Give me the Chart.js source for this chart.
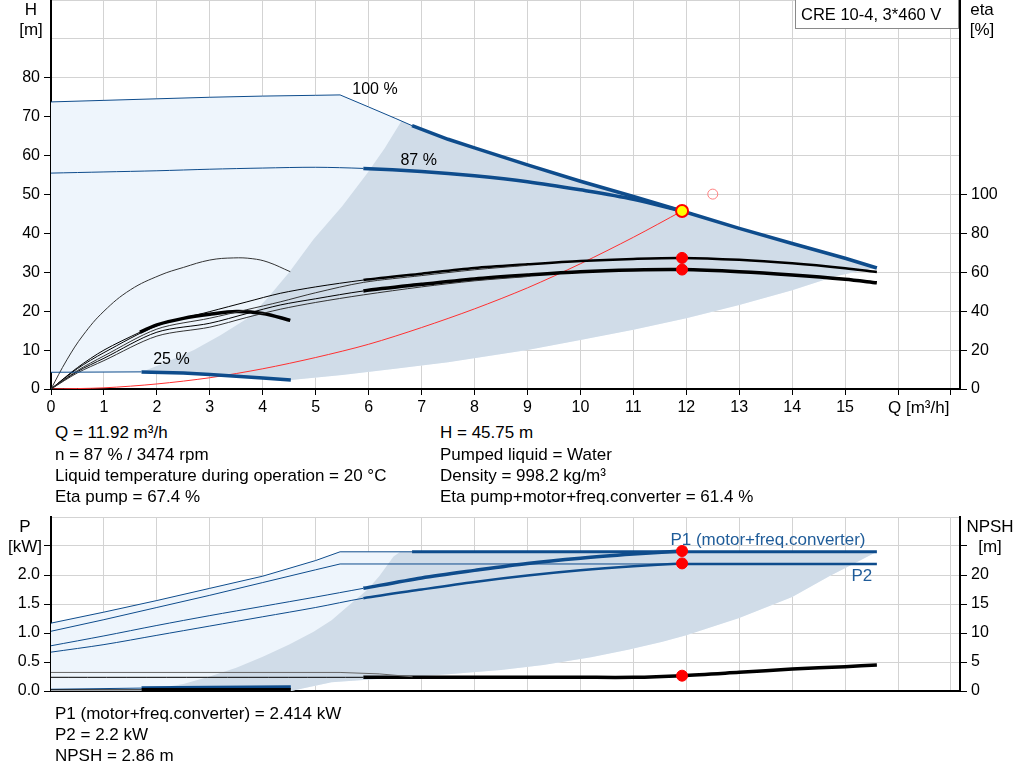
<!DOCTYPE html>
<html>
<head>
<meta charset="utf-8">
<script src="https://cdn.jsdelivr.net/npm/chart.js@4.4.0/dist/chart.umd.min.js"></script>
<style>
  body { margin: 0; background: #fff; width: 1024px; height: 781px; overflow: hidden; position: relative;
         font-family: "Liberation Sans", Arial, sans-serif; }
  #headBox { position: absolute; left: 0; top: 0; width: 1024px; height: 420px; }
  #powerBox { position: absolute; left: 0; top: 505px; width: 1024px; height: 200px; }
  .t { position: absolute; font-size: 17px; line-height: 20px; color: #000; white-space: nowrap; }
</style>
</head>
<body>
<div id="headBox"><canvas id="headChart"></canvas></div>
<div id="powerBox"><canvas id="powerChart"></canvas></div>

<div class="t" style="left:55px;top:423px">Q = 11.92 m³/h</div>
<div class="t" style="left:55px;top:445px">n = 87 % / 3474 rpm</div>
<div class="t" style="left:55px;top:466px">Liquid temperature during operation = 20 °C</div>
<div class="t" style="left:55px;top:487px">Eta pump = 67.4 %</div>
<div class="t" style="left:440px;top:423px">H = 45.75 m</div>
<div class="t" style="left:440px;top:445px">Pumped liquid = Water</div>
<div class="t" style="left:440px;top:466px">Density = 998.2 kg/m³</div>
<div class="t" style="left:440px;top:487px">Eta pump+motor+freq.converter = 61.4 %</div>

<div class="t" style="left:55px;top:704px">P1 (motor+freq.converter) = 2.414 kW</div>
<div class="t" style="left:55px;top:725px">P2 = 2.2 kW</div>
<div class="t" style="left:55px;top:746px">NPSH = 2.86 m</div>

<script>
// ---- flow axis ----
const qGrid = [0, 1, 2, 3, 4, 5, 6, 7, 8, 9, 10, 11, 12, 13, 14, 15, 16, 17];
const qAxisMax = 17.17;

// ---- head curves (H, m) ----
const qMax = [0, 1, 2, 3, 4, 5, 5.46, 6.0, 6.5, 6.82, 7.5, 8, 9, 10, 11, 11.92, 13, 14, 15, 15.6];
const hMax = [73.8, 74.2, 74.6, 75.0, 75.3, 75.5, 75.6, 72.5, 69.6, 67.7, 64.2, 62.0, 57.6, 53.4, 49.5, 45.75, 41.3, 37.4, 33.6, 31.1];
const q87 = [0, 1, 2, 3, 4, 5, 5.9, 7, 8, 9, 10, 11, 11.92];
const h87 = [55.5, 55.8, 56.1, 56.5, 56.8, 57.0, 56.7, 55.9, 54.8, 53.3, 51.2, 48.8, 45.75];
const q25 = [0, 1.71, 2.5, 3, 3.5, 4, 4.53];
const h25 = [4.3, 4.4, 4.1, 3.7, 3.3, 2.8, 2.3];
const qLow = [4.53, 5.5, 6.5, 7.5, 9, 10, 11, 12, 13, 14, 14.8, 15.3, 15.6];
const hLow = [2.3, 3.6, 5.2, 6.9, 10.0, 12.6, 15.2, 18.2, 21.6, 25.4, 28.9, 30.4, 31.1];
const qLeft = [1.71, 2.2, 2.7, 3.2, 3.76, 4.1, 4.5, 4.96, 5.5, 5.97, 6.3, 6.62];
const hLeft = [4.4, 7.0, 10.0, 13.8, 18.6, 23.5, 30.0, 38.5, 47.0, 55.4, 61.8, 68.9];
const qSys = [0, 1, 2, 3, 4, 5, 6, 7, 8, 9, 10, 11, 11.92];
const hSys = [0, 0.3, 1.3, 2.9, 5.2, 8.1, 11.5, 15.8, 20.6, 26.0, 32.2, 39.0, 45.75];

// ---- efficiency curves (eta, %) ----
const qEtaP87 = [0, 0.5, 1, 2, 3, 3.7, 4.33, 5, 5.9, 7, 8, 9, 10, 11, 11.92, 13, 14, 15, 15.6];
const etaP87 = [0, 10.5, 18.7, 32.5, 39.8, 44.8, 49.2, 52.5, 56, 59.3, 62.2, 64.1, 65.8, 66.9, 67.4, 66.4, 64.6, 62.1, 60.2];
const qEtaP100 = [0, 0.5, 1, 2, 3, 3.7, 4.33, 5, 5.9, 7, 8, 9];
const etaP100 = [0, 9.5, 17, 30.8, 36.4, 40.8, 44.8, 49.5, 54.8, 58.3, 61.3, 63.6];
const qEtaT87 = [0, 0.5, 1, 2, 3, 3.7, 4.33, 5, 5.9, 7, 8, 9, 10, 11, 11.92, 13, 14, 15, 15.6];
const etaT87 = [0, 9, 15.8, 29.2, 33.8, 38.8, 43.2, 46.4, 50.4, 53.8, 56.6, 58.6, 60.3, 61.2, 61.4, 60.3, 58.6, 56.4, 54.6];
const qEtaT100 = [0, 0.5, 1, 2, 3, 3.7, 4.33, 5, 5.9, 7, 8, 9];
const etaT100 = [0, 8.3, 14.6, 27.2, 31.8, 36.8, 41, 44.5, 48.4, 52.5, 55.6, 57.8];
const qEtaP25 = [0, 0.3, 0.61, 1, 1.5, 2.06, 2.5, 3, 3.45, 3.8, 4.1, 4.52];
const etaP25 = [0, 15, 27.8, 40, 51, 58.5, 62.5, 66.3, 67.4, 67, 65.2, 60.3];
const qEtaT25 = [0, 0.5, 1, 1.68, 2, 2.5, 3, 3.5, 4, 4.52];
const etaT25 = [0, 11, 20, 29.2, 33, 36.3, 38.4, 39.8, 38.8, 35.3];

// ---- duty point ----
const dutyQ = 11.92, dutyH = 45.75, dutyEtaP = 67.4, dutyEtaT = 61.4;
const dutyP1 = 2.414, dutyP2 = 2.2, dutyNpsh = 2.64;
const setQ = 12.5, setH = 50.1;

// ---- power curves (P, kW) ----
const qP1Max = [0, 1, 2, 3, 4, 5, 5.46, 6.82, 9, 11.92, 14, 15.6];
const pP1Max = [1.17, 1.36, 1.56, 1.77, 1.98, 2.25, 2.4, 2.4, 2.4, 2.4, 2.4, 2.4];
const qP2Max = [0, 1, 2, 3, 4, 5, 5.46, 9, 11.92, 14, 15.6];
const pP2Max = [1.03, 1.23, 1.44, 1.65, 1.87, 2.09, 2.19, 2.19, 2.19, 2.19, 2.19];
const qP87 = [0, 1, 2, 3, 4, 5, 5.9, 7, 8, 9, 10, 11, 11.92];
const pP1_87 = [0.78, 0.95, 1.13, 1.3, 1.46, 1.62, 1.77, 1.95, 2.08, 2.2, 2.29, 2.36, 2.414];
const pP2_87 = [0.67, 0.8, 0.96, 1.12, 1.28, 1.44, 1.6, 1.75, 1.88, 1.99, 2.08, 2.15, 2.2];
const qP25 = [0, 1.71, 3, 4.53];
const pP1_25 = [0.03, 0.05, 0.06, 0.07];
const qPLeft = [1.71, 2.5, 3, 3.5, 4, 4.5, 4.96, 5.3, 5.59, 5.97, 6.2, 6.47, 6.6];
const pPLeft = [0, 0.12, 0.25, 0.4, 0.59, 0.8, 1.02, 1.22, 1.45, 1.74, 1.98, 2.32, 2.4];
const qPLow = [4.53, 5.3, 6.5, 7.5, 8.5, 9.3, 10.2, 10.9, 11.55, 12, 13, 14, 14.7, 15.3, 15.6];
const pPLow = [0, 0.15, 0.23, 0.29, 0.36, 0.45, 0.58, 0.71, 0.85, 0.96, 1.26, 1.62, 1.98, 2.26, 2.4];

// ---- NPSH curves (m) ----
const qN87 = [0, 5.9, 7, 8, 9, 10, 11, 11.92, 13, 14, 15, 15.6];
const npsh87 = [2.36, 2.36, 2.38, 2.38, 2.37, 2.36, 2.36, 2.64, 3.22, 3.79, 4.2, 4.48];
const qN100 = [0, 5.46, 6.2, 6.83];
const npsh100 = [3.2, 3.2, 2.95, 2.45];
const qN25 = [0, 1.71, 4.53];
const npsh25 = [0.2, 0.2, 0.2];

const blue = '#0e4c8c';
const gridColor = '#d3d3d3';
const lightFill = '#eef5fc';
const darkFill = '#d0dce8';

Chart.defaults.font.family = '"Liberation Sans", Arial, sans-serif';
Chart.defaults.font.size = 16;
Chart.defaults.color = '#000';

function pts(qs, vs) {
    return qs.map(function(q, i){ return {x: q, y: vs[i]}; });
}

function curve(qs, vs, axis, color, thickFrom, thin, thick, tension) {
    return {
        data: pts(qs, vs),
        yAxisID: axis,
        borderColor: color,
        borderWidth: thin,
        borderJoinStyle: 'round',
        pointRadius: 0,
        tension: tension === undefined ? 0.3 : tension,
        fill: false,
        order: 5,
        segment: {
            borderWidth: function(c){ return c.p0.parsed.x >= thickFrom - 1e-6 ? thick : thin; }
        }
    };
}

function area(points, axis, color, order) {
    return {
        data: points,
        yAxisID: axis,
        borderWidth: 0,
        borderColor: 'rgba(0,0,0,0)',
        backgroundColor: color,
        pointRadius: 0,
        tension: 0,
        fill: 'shape',
        order: order
    };
}

function dot(q, v, axis, bg, border, r, bw) {
    return {
        data: [{x: q, y: v}],
        yAxisID: axis,
        showLine: false,
        pointRadius: r,
        pointBackgroundColor: bg,
        pointBorderColor: border,
        pointBorderWidth: bw,
        order: 0
    };
}

// no automatic label padding: plot area is set by the axis sizes below
function noPad(s) {
    s.paddingTop = 0; s.paddingBottom = 0; s.paddingLeft = 0; s.paddingRight = 0;
}

function qAxis(withLabels, height) {
    return {
        type: 'linear', min: 0, max: qAxisMax,
        afterBuildTicks: function(s){ s.ticks = qGrid.map(function(v){ return {value: v}; }); },
        ticks: {
            display: withLabels, autoSkip: false, maxRotation: 0, padding: 3,
            callback: function(v){ return v <= 15 ? String(v) : ''; }
        },
        grid: { color: gridColor, drawTicks: withLabels, tickLength: 6, tickColor: '#000' },
        border: { color: '#000', width: 2 },
        afterFit: function(s){ s.height = height; noPad(s); }
    };
}

function valueAxis(pos, max, step, labelMax, tickMax, width, fmt, onArea) {
    return {
        type: 'linear', position: pos, min: 0, max: max,
        ticks: {
            stepSize: step, padding: 4,
            callback: function(v){ return v <= labelMax + 1e-9 ? fmt(v) : ''; }
        },
        grid: {
            color: gridColor, drawOnChartArea: onArea, tickLength: 7,
            tickColor: function(c){ return c.tick && c.tick.value <= tickMax + 1e-9 ? '#000' : 'rgba(0,0,0,0)'; }
        },
        border: { color: '#000', width: 2 },
        afterFit: function(s){ s.width = width; noPad(s); }
    };
}

// ---------- head / efficiency chart ----------
const maxPts = pts(qMax, hMax);
const lowPts = pts(qLow, hLow);
const p25 = pts(q25, h25);
const headLight = maxPts.concat(lowPts.slice().reverse(), p25.slice().reverse());
const headDark = pts(qLeft, hLeft).concat(
    maxPts.filter(function(p){ return p.x > 6.62; }),
    lowPts.slice().reverse(),
    p25.filter(function(p){ return p.x > 1.71 && p.x < 4.53; }).reverse()
);

const speedLabels = [
    {text: '100 %', q: 5.69, h: 76.9},
    {text: '87 %', q: 6.6, h: 58.6},
    {text: '25 %', q: 1.93, h: 7.5}
];

const headNotes = {
    id: 'headNotes',
    afterDraw: function(chart){
        const ctx = chart.ctx;
        const x = chart.scales.x, y = chart.scales.y;
        ctx.save();
        ctx.fillStyle = '#000';
        ctx.textBaseline = 'middle';
        ctx.font = '16px "Liberation Sans", Arial, sans-serif';
        ctx.textAlign = 'left';
        speedLabels.forEach(function(l){
            ctx.fillText(l.text, x.getPixelForValue(l.q), y.getPixelForValue(l.h));
        });
        ctx.font = '17px "Liberation Sans", Arial, sans-serif';
        ctx.fillText('Q [m³/h]', 888, 408);
        ctx.textAlign = 'center';
        ctx.fillText('H', 31, 10);
        ctx.fillText('[m]', 31, 30);
        ctx.fillText('eta', 982, 10);
        ctx.fillText('[%]', 982, 30);
        // pump name box
        ctx.fillStyle = '#fff';
        ctx.fillRect(795.5, -1, 163, 29.5);
        ctx.strokeStyle = '#8a8a8a';
        ctx.lineWidth = 1;
        ctx.strokeRect(795.5, -1, 163, 29.5);
        ctx.fillStyle = '#000';
        ctx.textAlign = 'left';
        ctx.font = '16.5px "Liberation Sans", Arial, sans-serif';
        ctx.fillText('CRE 10-4, 3*460 V', 801, 15);
        ctx.restore();
    }
};

new Chart(document.getElementById('headChart'), {
    type: 'line',
    data: {
        datasets: [
            area(headLight, 'y', lightFill, 11),
            area(headDark, 'y', darkFill, 10),
            Object.assign(curve(qSys, hSys, 'y', '#ff3030', 99, 1, 1), {order: 6}),
            curve(qMax, hMax, 'y', blue, 6.82, 1, 3.5, 0),
            curve(q87, h87, 'y', blue, 5.9, 1, 3.5),
            curve(q25, h25, 'y', blue, 1.71, 1, 3.5, 0),
            curve(qEtaP100, etaP100, 'eta', '#333', 99, 1, 1),
            curve(qEtaT100, etaT100, 'eta', '#333', 99, 1, 1),
            curve(qEtaP87, etaP87, 'eta', '#000', 5.9, 1, 2.5),
            curve(qEtaT87, etaT87, 'eta', '#000', 5.9, 1, 3.5),
            curve(qEtaP25, etaP25, 'eta', '#333', 99, 1, 1, 0.4),
            curve(qEtaT25, etaT25, 'eta', '#000', 1.68, 1, 3.5),
            dot(dutyQ, dutyEtaP, 'eta', '#ff0000', '#ff0000', 5.5, 1),
            dot(dutyQ, dutyEtaT, 'eta', '#ff0000', '#ff0000', 5.5, 1),
            dot(setQ, setH, 'y', 'rgba(0,0,0,0)', '#ff8080', 5, 1),
            dot(dutyQ, dutyH, 'y', '#ffff00', '#ff0000', 6, 2)
        ]
    },
    options: {
        responsive: true,
        maintainAspectRatio: false,
        animation: false,
        events: [],
        layout: { padding: 0, autoPadding: false },
        plugins: { legend: { display: false }, tooltip: { enabled: false } },
        scales: {
            x: qAxis(true, 31),
            y: valueAxis('left', 100, 10, 80, 80, 51, function(v){ return String(v); }, true),
            eta: valueAxis('right', 200, 20, 100, 100, 64, function(v){ return String(v); }, false)
        }
    },
    plugins: [headNotes]
});

// ---------- power / NPSH chart ----------
const p1MaxPts = pts(qP1Max, pP1Max);
const pLowPts = pts(qPLow, pPLow);
const powerLight = p1MaxPts.concat(pLowPts.slice().reverse(), [{x: 0, y: 0}]);
const powerDark = pts(qPLeft, pPLeft).concat(
    p1MaxPts.filter(function(p){ return p.x > 6.6; }),
    pLowPts.slice().reverse()
);

const powerLabels = [
    {text: 'P1 (motor+freq.converter)', q: 11.7, p: 2.6},
    {text: 'P2', q: 15.12, p: 1.97}
];

const powerNotes = {
    id: 'powerNotes',
    afterDraw: function(chart){
        const ctx = chart.ctx;
        const x = chart.scales.x, y = chart.scales.y;
        ctx.save();
        ctx.textBaseline = 'middle';
        ctx.font = '17px "Liberation Sans", Arial, sans-serif';
        ctx.fillStyle = '#1f5c99';
        ctx.textAlign = 'left';
        powerLabels.forEach(function(l){
            ctx.fillText(l.text, x.getPixelForValue(l.q), y.getPixelForValue(l.p));
        });
        ctx.fillStyle = '#000';
        ctx.textAlign = 'center';
        ctx.fillText('P', 25, 22);
        ctx.fillText('[kW]', 25, 42);
        ctx.fillText('NPSH', 990, 22);
        ctx.fillText('[m]', 990, 42);
        ctx.restore();
    }
};

new Chart(document.getElementById('powerChart'), {
    type: 'line',
    data: {
        datasets: [
            area(powerLight, 'y', lightFill, 11),
            area(powerDark, 'y', darkFill, 10),
            curve(qP1Max, pP1Max, 'y', blue, 6.82, 1, 3, 0),
            curve(qP2Max, pP2Max, 'y', blue, 11.92, 1, 2.5, 0),
            curve(qP87, pP1_87, 'y', blue, 5.9, 1, 3.5),
            curve(qP87, pP2_87, 'y', blue, 5.9, 1, 2.5),
            curve(qN100, npsh100, 'npsh', '#666', 99, 1, 1, 0),
            curve(qN25, npsh25, 'npsh', '#000', 1.71, 1, 3.5, 0),
            curve(qP25, pP1_25, 'y', blue, 1.71, 1, 3.5, 0),
            curve(qN87, npsh87, 'npsh', '#000', 5.9, 1, 3.5),
            dot(dutyQ, dutyP1, 'y', '#ff0000', '#ff0000', 5.5, 1),
            dot(dutyQ, dutyP2, 'y', '#ff0000', '#ff0000', 5.5, 1),
            dot(dutyQ, dutyNpsh, 'npsh', '#ff0000', '#ff0000', 5.5, 1)
        ]
    },
    options: {
        responsive: true,
        maintainAspectRatio: false,
        animation: false,
        events: [],
        layout: { padding: { top: 12 }, autoPadding: false },
        plugins: { legend: { display: false }, tooltip: { enabled: false } },
        scales: {
            x: qAxis(false, 14),
            y: valueAxis('left', 3, 0.5, 2, 2.5, 51, function(v){ return v.toFixed(1); }, true),
            npsh: valueAxis('right', 30, 5, 20, 25, 64, function(v){ return String(v); }, false)
        }
    },
    plugins: [powerNotes]
});
</script>
</body>
</html>
